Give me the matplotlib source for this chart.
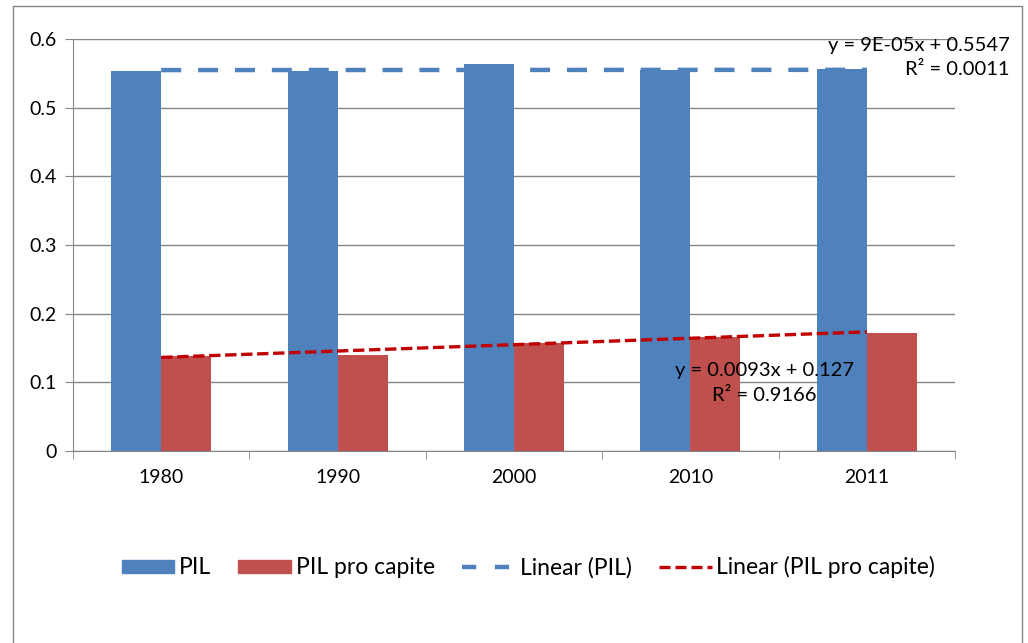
import matplotlib.pyplot as plt
import numpy as np
from matplotlib.lines import Line2D
from matplotlib.patches import Patch

plt.rcParams['font.family'] = ['Lato', 'DejaVu Sans']

years = ['1980', '1990', '2000', '2010', '2011']
pil = [0.553, 0.553, 0.563, 0.555, 0.557]
pil_pro_capite = [0.138, 0.140, 0.157, 0.166, 0.172]

# trend line coefficients as shown in the chart (x = 1..5)
pil_slope, pil_intercept = 9e-05, 0.5547
ppc_slope, ppc_intercept = 0.0093, 0.127

blue = '#4F81BD'
red = '#C0504D'
dark_red = '#C00000'

fig = plt.figure(figsize=(10.28, 6.43), dpi=100)
ax = fig.add_axes([0.071, 0.2986, 0.858, 0.6407])

x = np.arange(len(years))
w = 0.283
ax.bar(x - w / 2, pil, w, color=blue, zorder=2)
ax.bar(x + w / 2, pil_pro_capite, w, color=red, zorder=2)

xn = x + 1
ax.plot(x, pil_slope * xn + pil_intercept, color=blue, lw=3.2,
        linestyle=(0, (4.5, 3.8)), zorder=3)
ax.plot(x, ppc_slope * xn + ppc_intercept, color=dark_red, lw=2.4,
        linestyle=(0, (3.4, 1.4)), zorder=3)

ax.set_xlim(-0.5, len(years) - 0.5)
ax.set_ylim(0, 0.6)
ax.set_yticks(np.arange(0, 0.61, 0.1))
ax.set_yticklabels(['0', '0.1', '0.2', '0.3', '0.4', '0.5', '0.6'])
ax.yaxis.grid(True, color='#868686', lw=1)
ax.set_axisbelow(True)
ax.set_xticks(x)
ax.set_xticklabels(years)
ax.set_xticks(np.arange(-0.5, len(years)), minor=True)
ax.tick_params(axis='x', which='major', length=0, pad=13, labelsize=14)
ax.tick_params(axis='x', which='minor', length=6, color='#868686', direction='out')
ax.tick_params(axis='y', length=6, color='#868686', labelsize=14, pad=6)
for s in ['top', 'right']:
    ax.spines[s].set_visible(False)
for s in ['left', 'bottom']:
    ax.spines[s].set_color('#868686')

ax.text(1.062, 1.004, 'y = 9E-05x + 0.5547\nR² = 0.0011', transform=ax.transAxes,
        ha='right', va='top', fontsize=14.5, linespacing=1.45, clip_on=False,
        multialignment='right')
ax.text(3.42, 0.099, 'y = 0.0093x + 0.127\nR² = 0.9166', ha='center', va='center',
        fontsize=14.5, linespacing=1.55, zorder=4)

handles = [Patch(color=blue), Patch(color=red),
           Line2D([], [], color=blue, lw=3.2, linestyle=(0, (3.2, 4.2))),
           Line2D([], [], color=dark_red, lw=2.4, linestyle=(0, (3.3, 1.5)))]
labels = ['PIL', 'PIL pro capite', 'Linear (PIL)', 'Linear (PIL pro capite)']
fig.legend(handles, labels, loc='center', bbox_to_anchor=(0.514, 0.118), ncol=4,
           frameon=False, fontsize=16.5, handlelength=2.3, handleheight=0.5,
           handletextpad=0.2, columnspacing=1.2)

# outer chart border
fig.add_artist(Line2D([0.0127, 0.0127, 0.9945, 0.9945], [0.0, 0.9907, 0.9907, 0.0],
                      transform=fig.transFigure, color='#868686', lw=1))

fig.savefig('out.png', dpi=100, facecolor='white')
